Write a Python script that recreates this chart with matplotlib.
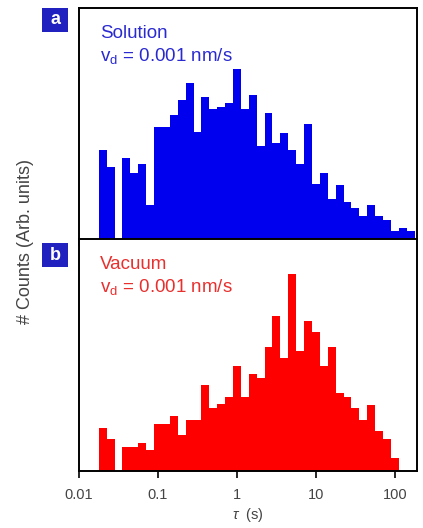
import numpy as np
import matplotlib
matplotlib.use("Agg")
import matplotlib.pyplot as plt

plt.rcParams['font.family'] = ['Liberation Sans', 'DejaVu Sans']
plt.rcParams['mathtext.fontset'] = 'custom'
plt.rcParams['mathtext.rm'] = 'Liberation Sans'
plt.rcParams['mathtext.it'] = 'Liberation Sans:italic'

# log10 of first bin edge and bin width (decades)
log_start = -1.75
log_step = 0.1

solution_counts = [266, 215, 0, 241, 198, 224, 103, 336, 336, 371, 415, 466, 320, 424,
                   390, 396, 406, 510, 390, 431, 278, 378, 286, 318, 266, 224, 345, 165,
                   198, 121, 163, 112, 93, 68, 102, 68, 58, 25, 33, 23]
vacuum_counts = [130, 95, 0, 72, 72, 84, 62, 142, 142, 165, 107, 154, 154, 257, 189, 200,
                 222, 315, 222, 292, 280, 372, 465, 339, 592, 360, 452, 417, 315, 372,
                 234, 222, 189, 154, 199, 119, 95, 40]

xticks = [0.01, 0.1, 1, 10, 100]
xticklabels = ["0.01", "0.1", "1", "10", "100"]

fig = plt.figure(figsize=(4.23, 5.28), dpi=100)
ax1 = fig.add_axes([0.1868, 0.5473, 0.7990, 0.4375])
ax2 = fig.add_axes([0.1868, 0.1080, 0.7990, 0.4393])

panels = [
    (ax1, solution_counts, "#0000ee", "#2a2ad0", "Solution", "a", 691),
    (ax2, vacuum_counts, "#ff0000", "#e8302e", "Vacuum", "b", 697),
]

for ax, counts, barcol, txtcol, name, letter, ytop in panels:
    n = len(counts)
    edges = 10 ** (log_start + log_step * np.arange(n + 1))
    ax.bar(edges[:-1], counts, width=np.diff(edges), align='edge',
           color=barcol, edgecolor='none', linewidth=0)
    ax.set_xscale('log')
    ax.set_xlim(0.01, 10 ** 2.28)
    ax.set_ylim(0, ytop)
    ax.set_yticks([])
    ax.set_xticks(xticks)
    ax.xaxis.set_minor_locator(matplotlib.ticker.NullLocator())
    ax.tick_params(axis='x', direction='out', length=5, width=1.2,
                   colors='#444444', labelsize=10.5, pad=7)
    ax.tick_params(axis='x', color='black')
    for s in ax.spines.values():
        s.set_linewidth(1.4)
        s.set_color('black')
    ax.text(0.062, 0.872, name, transform=ax.transAxes, color=txtcol,
            fontsize=13.5, va='baseline', ha='left')
    ax.text(0.062, 0.770, r"v$_\mathrm{d}$ = 0.001 nm/s", transform=ax.transAxes,
            color=txtcol, fontsize=13.5, va='baseline', ha='left')

ax1.tick_params(axis='x', labelbottom=False)
ax1.spines['bottom'].set_visible(False)
ax2.set_xticklabels(xticklabels)
ax2.set_xlabel(r"$\tau$  (s)", fontsize=10.5, color='#444444', labelpad=3)

# panel letters
for letter, ytop_px in [("a", 8), ("b", 243)]:
    x0 = 42 / 423
    w = 26 / 423
    h = 24 / 528
    y0 = 1 - (ytop_px + 24) / 528
    fig.patches.append(matplotlib.patches.Rectangle((x0, y0), w, h,
                       transform=fig.transFigure, facecolor='#2121c0',
                       edgecolor='none'))
    fig.text(x0 + w / 2, y0 + h / 2, letter, color='white', fontsize=13,
             fontweight='bold', ha='center', va='center')

fig.text(0.060, 0.543, "# Counts (Arb. units)", rotation=90, fontsize=13,
         color='#444444', ha='center', va='center')

fig.savefig("out.png", dpi=100)
